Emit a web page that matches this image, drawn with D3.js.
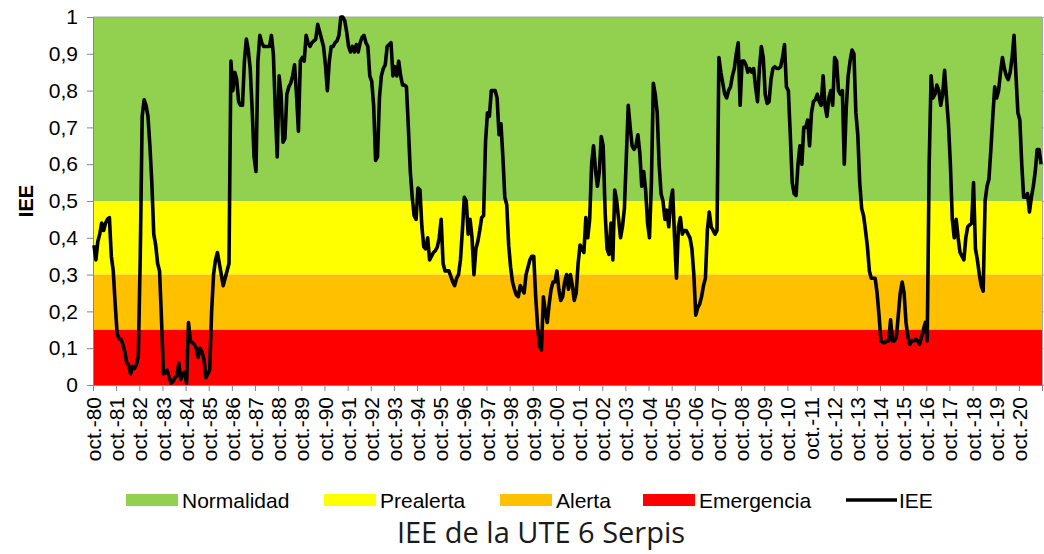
<!DOCTYPE html>
<html>
<head>
<meta charset="utf-8">
<script src="https://cdn.jsdelivr.net/npm/d3@7"></script>
<style>
  body { margin: 0; background: #fff; }
  svg { display: block; font-family: "Liberation Sans", Arial, sans-serif; }
</style>
</head>
<body>
<svg id="chart" width="1044" height="554"></svg>
<script>
// IEE mensual, oct-80 .. sep-21 (una fila por año hidrológico)
const iee = [
  0.38, 0.34, 0.39, 0.41, 0.44, 0.42, 0.44, 0.45, 0.455, 0.35, 0.31, 0.22,
  0.14, 0.125, 0.125, 0.11, 0.09, 0.06, 0.055, 0.03, 0.05, 0.045, 0.055, 0.08,
  0.35, 0.73, 0.775, 0.76, 0.73, 0.65, 0.55, 0.41, 0.38, 0.33, 0.31, 0.18,
  0.03, 0.035, 0.04, 0.02, 0.005, 0.01, 0.02, 0.025, 0.06, 0.015, 0.03, 0.035,
  0.005, 0.17, 0.12, 0.115, 0.11, 0.10, 0.075, 0.10, 0.09, 0.07, 0.02, 0.03,
  0.04, 0.20, 0.30, 0.34, 0.36, 0.33, 0.30, 0.27, 0.29, 0.31, 0.33, 0.88,
  0.80, 0.85, 0.83, 0.77, 0.76, 0.76, 0.88, 0.94, 0.91, 0.86, 0.75, 0.62,
  0.58, 0.88, 0.95, 0.93, 0.92, 0.92, 0.92, 0.92, 0.95, 0.90, 0.75, 0.62,
  0.84, 0.79, 0.66, 0.67, 0.79, 0.81, 0.82, 0.84, 0.87, 0.79, 0.69, 0.88,
  0.89, 0.88, 0.95, 0.93, 0.92, 0.93, 0.935, 0.94, 0.98, 0.96, 0.94, 0.92,
  0.87, 0.80, 0.88, 0.92, 0.92, 0.93, 0.935, 0.95, 1.0, 1.0, 0.99, 0.96,
  0.92, 0.905, 0.92, 0.905, 0.925, 0.905, 0.93, 0.945, 0.95, 0.93, 0.92, 0.84,
  0.825, 0.76, 0.61, 0.62, 0.78, 0.84, 0.86, 0.87, 0.92, 0.925, 0.93, 0.84,
  0.865, 0.84, 0.88, 0.84, 0.815, 0.815, 0.81, 0.70, 0.58, 0.51, 0.46, 0.45,
  0.535, 0.53, 0.43, 0.375, 0.37, 0.40, 0.34, 0.35, 0.36, 0.365, 0.375, 0.40,
  0.45, 0.33, 0.31, 0.31, 0.31, 0.295, 0.28, 0.27, 0.29, 0.30, 0.34, 0.42,
  0.51, 0.50, 0.41, 0.45, 0.40, 0.30, 0.37, 0.39, 0.42, 0.455, 0.46, 0.66,
  0.74, 0.73, 0.80, 0.80, 0.80, 0.78, 0.68, 0.71, 0.62, 0.51, 0.49, 0.38,
  0.32, 0.28, 0.26, 0.245, 0.24, 0.27, 0.26, 0.25, 0.30, 0.32, 0.34, 0.35,
  0.35, 0.24, 0.16, 0.105, 0.095, 0.24, 0.20, 0.17, 0.22, 0.26, 0.28, 0.28,
  0.31, 0.26, 0.23, 0.24, 0.28, 0.30, 0.26, 0.30, 0.27, 0.23, 0.25, 0.33,
  0.38, 0.37, 0.36, 0.455, 0.40, 0.45, 0.60, 0.65, 0.585, 0.54, 0.58, 0.675,
  0.65, 0.47, 0.37, 0.355, 0.44, 0.34, 0.53, 0.50, 0.45, 0.40, 0.43, 0.48,
  0.62, 0.76, 0.70, 0.65, 0.64, 0.65, 0.68, 0.63, 0.54, 0.58, 0.53, 0.44,
  0.40, 0.55, 0.82, 0.79, 0.74, 0.60, 0.52, 0.50, 0.45, 0.475, 0.43, 0.50,
  0.53, 0.40, 0.29, 0.43, 0.455, 0.41, 0.42, 0.42, 0.41, 0.40, 0.37, 0.30,
  0.19, 0.21, 0.22, 0.24, 0.27, 0.29, 0.42, 0.47, 0.43, 0.42, 0.41, 0.42,
  0.89, 0.85, 0.82, 0.79, 0.78, 0.80, 0.81, 0.84, 0.86, 0.90, 0.93, 0.76,
  0.88, 0.88, 0.87, 0.85, 0.86, 0.85, 0.86, 0.81, 0.77, 0.86, 0.92, 0.89,
  0.79, 0.765, 0.77, 0.83, 0.86, 0.865, 0.86, 0.86, 0.865, 0.89, 0.925, 0.81,
  0.80, 0.68, 0.55, 0.52, 0.515, 0.60, 0.65, 0.60, 0.70, 0.70, 0.72, 0.65,
  0.74, 0.77, 0.775, 0.79, 0.77, 0.76, 0.84, 0.76, 0.73, 0.78, 0.80, 0.76,
  0.89, 0.88, 0.80, 0.79, 0.80, 0.60, 0.75, 0.84, 0.88, 0.91, 0.90, 0.74,
  0.68, 0.55, 0.48, 0.46, 0.42, 0.375, 0.31, 0.29, 0.29, 0.29, 0.25, 0.19,
  0.12, 0.115, 0.115, 0.12, 0.12, 0.177, 0.12, 0.12, 0.13, 0.19, 0.25, 0.28,
  0.25, 0.17, 0.13, 0.11, 0.12, 0.12, 0.125, 0.12, 0.11, 0.13, 0.15, 0.17,
  0.12, 0.60, 0.84, 0.78, 0.79, 0.815, 0.80, 0.76, 0.79, 0.855, 0.78, 0.71,
  0.60, 0.45, 0.40, 0.45, 0.40, 0.36, 0.35, 0.34, 0.40, 0.43, 0.435, 0.44,
  0.55, 0.37, 0.34, 0.30, 0.27, 0.255, 0.50, 0.54, 0.56, 0.64, 0.73, 0.81,
  0.78, 0.80, 0.85, 0.89, 0.86, 0.84, 0.83, 0.85, 0.89, 0.95, 0.84, 0.74,
  0.72, 0.60, 0.51, 0.51, 0.52, 0.47, 0.51, 0.54, 0.58, 0.64, 0.64, 0.60
];

const tickLabels = [
  "oct.-80", "oct.-81", "oct.-82", "oct.-83", "oct.-84", "oct.-85", "oct.-86",
  "oct.-87", "oct.-88", "oct.-89", "oct.-90", "oct.-91", "oct.-92", "oct.-93",
  "oct.-94", "oct.-95", "oct.-96", "oct.-97", "oct.-98", "oct.-99", "oct.-00",
  "oct.-01", "oct.-02", "oct.-03", "oct.-04", "oct.-05", "oct.-06", "oct.-07",
  "oct.-08", "oct.-09", "oct.-10", "oct.-11", "oct.-12", "oct.-13", "oct.-14",
  "oct.-15", "oct.-16", "oct.-17", "oct.-18", "oct.-19", "oct.-20"
];

// umbrales de los escenarios
const bandNames = ["Normalidad", "Prealerta", "Alerta", "Emergencia"];
const bandLow = [0.5, 0.3, 0.15, 0];
const bandHigh = [1, 0.5, 0.3, 0.15];
const bandColors = ["#92D050", "#FFFF00", "#FFC000", "#FF0000"];

const yTicks = [0, 0.1, 0.2, 0.3, 0.4, 0.5, 0.6, 0.7, 0.8, 0.9, 1];

const margin = { top: 17, right: 2, bottom: 169, left: 93 };
const width = 1044, height = 554;
const svg = d3.select("#chart");

const x = d3.scaleLinear()
  .domain([0, iee.length])
  .range([margin.left, width - margin.right]);
const y = d3.scaleLinear()
  .domain([0, 1])
  .range([height - margin.bottom, margin.top]);

// bandas de color
svg.append("g").selectAll("rect")
  .data(bandNames)
  .join("rect")
  .attr("x", x(0))
  .attr("width", x(iee.length) - x(0))
  .attr("y", (d, i) => y(bandHigh[i]))
  .attr("height", (d, i) => y(bandLow[i]) - y(bandHigh[i]))
  .attr("fill", (d, i) => bandColors[i]);

// borde superior y eje derecho
svg.append("line")
  .attr("x1", x(0)).attr("x2", x(iee.length))
  .attr("y1", y(1)).attr("y2", y(1))
  .attr("stroke", "#a6a6a6").attr("stroke-width", 1);

const yRight = svg.append("g")
  .attr("transform", "translate(" + x(iee.length) + ",0)")
  .call(d3.axisRight(y).tickValues(yTicks).tickSize(3).tickFormat(""));
yRight.select(".domain").attr("stroke", "#a6a6a6");
yRight.selectAll(".tick line").attr("stroke", "#a6a6a6");

// eje Y
const yAxis = svg.append("g")
  .attr("transform", "translate(" + x(0) + ",0)")
  .call(d3.axisLeft(y)
    .tickValues(yTicks)
    .tickSize(6)
    .tickPadding(9)
    .tickFormat(d => (d === 0 || d === 1) ? String(d) : d.toFixed(1).replace(".", ",")));
yAxis.select(".domain").attr("stroke", "#868686");
yAxis.selectAll(".tick line").attr("stroke", "#868686");
yAxis.selectAll("text")
  .attr("fill", "#000")
  .style("font-size", "21px")
  .style("font-family", "Liberation Sans, Arial, sans-serif");

// eje X
const xAxis = svg.append("g")
  .attr("transform", "translate(0," + y(0) + ")")
  .call(d3.axisBottom(x)
    .tickValues(tickLabels.map((d, i) => i * 12))
    .tickSize(6)
    .tickFormat((d, i) => tickLabels[i]));
xAxis.select(".domain").attr("stroke", "#868686");
xAxis.selectAll(".tick line").attr("stroke", "#868686");
xAxis.selectAll("text")
  .attr("transform", "rotate(-90)")
  .attr("x", -12)
  .attr("y", 0)
  .attr("dy", "0.36em")
  .style("text-anchor", "end")
  .attr("fill", "#000")
  .style("font-size", "21px")
  .style("font-family", "Liberation Sans, Arial, sans-serif");

// título eje Y
svg.append("text")
  .attr("transform", "translate(33," + y(0.5) + ") rotate(-90)")
  .attr("text-anchor", "middle")
  .style("font-size", "20px")
  .style("font-weight", "bold")
  .text("IEE");

// línea IEE
const line = d3.line()
  .x((d, i) => x(i + 0.5))
  .y(d => y(d));

svg.append("path")
  .datum(iee)
  .attr("fill", "none")
  .attr("stroke", "#000")
  .attr("stroke-width", 3.6)
  .attr("stroke-linejoin", "round")
  .attr("d", line);

// leyenda
const legendX = [126, 324, 500, 643];
const legend = svg.append("g");
bandNames.forEach((name, i) => {
  legend.append("rect")
    .attr("x", legendX[i]).attr("y", 494)
    .attr("width", 52).attr("height", 12)
    .attr("fill", bandColors[i]);
  legend.append("text")
    .attr("x", legendX[i] + 56).attr("y", 508)
    .style("font-size", "21px")
    .text(name);
});
legend.append("line")
  .attr("x1", 846).attr("x2", 897)
  .attr("y1", 500).attr("y2", 500)
  .attr("stroke", "#000").attr("stroke-width", 3.6);
legend.append("text")
  .attr("x", 899).attr("y", 508)
  .style("font-size", "21px")
  .text("IEE");

// título
svg.append("text")
  .attr("x", 541).attr("y", 543)
  .attr("text-anchor", "middle")
  .style("font-family", "'Open Sans', sans-serif")
  .style("font-size", "29px")
  .attr("fill", "#1a1a1a")
  .text("IEE de la UTE 6 Serpis");
</script>
</body>
</html>
